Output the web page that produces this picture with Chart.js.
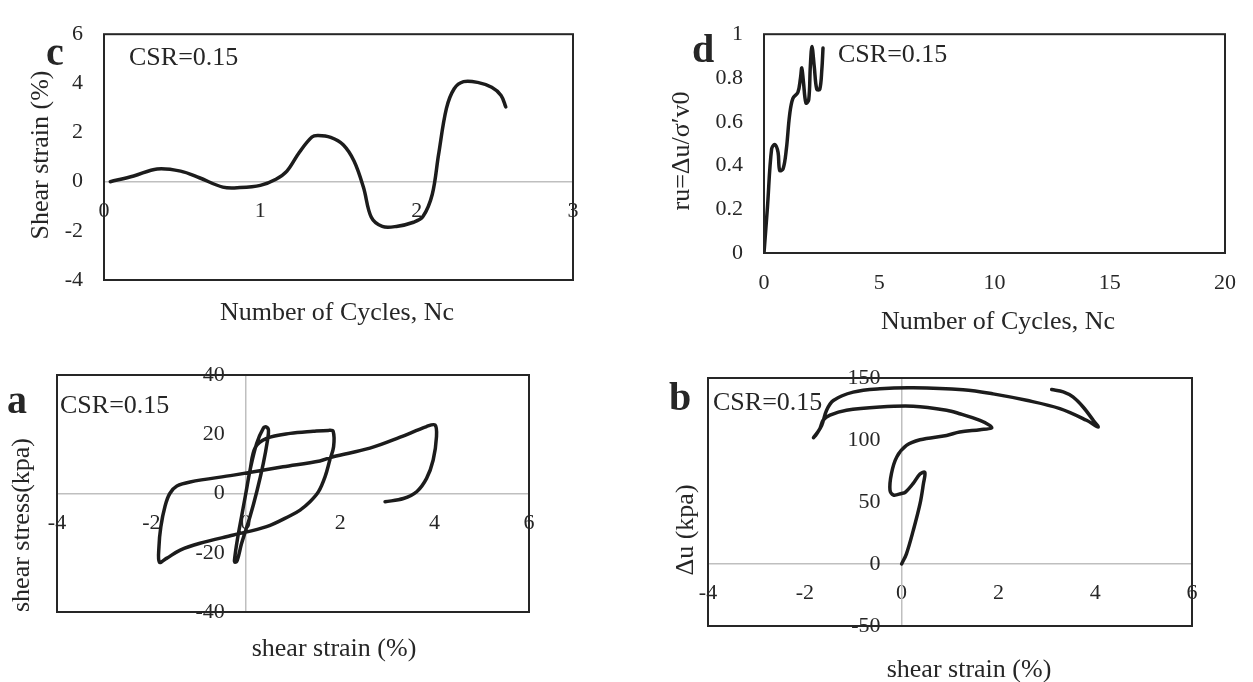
<!DOCTYPE html>
<html lang="en">
<head>
<meta charset="UTF-8">
<title>Cyclic test, CSR=0.15</title>
<script src="https://cdn.jsdelivr.net/npm/chart.js"></script>
<style>
  body { margin: 0; background: #fff; }
  #wrap { position: relative; width: 1253px; height: 682px; }
  canvas { position: absolute; left: 0; top: 0; }
</style>
</head>
<body>
<div id="wrap">
  <canvas id="chartC" width="1253" height="682"></canvas>
  <canvas id="chartD" width="1253" height="682"></canvas>
  <canvas id="chartA" width="1253" height="682"></canvas>
  <canvas id="chartB" width="1253" height="682"></canvas>
</div>
<script>
// c: shear strain vs number of cycles
const cyclesC = [0.04, 0.19, 0.34, 0.49, 0.61, 0.76, 0.87, 1.0, 1.1, 1.17, 1.25, 1.33, 1.37, 1.45, 1.53, 1.60, 1.66, 1.71, 1.78, 1.87, 1.98, 2.04, 2.10, 2.14, 2.19, 2.24, 2.30, 2.39, 2.48, 2.54, 2.57];
const strainC = [0.0, 0.23, 0.52, 0.43, 0.16, -0.22, -0.24, -0.15, 0.1, 0.43, 1.2, 1.82, 1.88, 1.8, 1.5, 0.83, -0.24, -1.45, -1.82, -1.82, -1.65, -1.42, -0.51, 1.1, 2.97, 3.78, 4.07, 4.04, 3.84, 3.51, 3.04];
const ticksC = { xMin: 0, xMax: 3, xStep: 1, yMin: -4, yMax: 6, yStep: 2 };

// d: pore pressure ratio vs number of cycles
const cyclesD = [0.0, 0.15, 0.33, 0.47, 0.61, 0.68, 0.83, 0.97, 1.11, 1.25, 1.47, 1.58, 1.64, 1.71, 1.82, 1.94, 2.01, 2.08, 2.18, 2.29, 2.42, 2.51, 2.56];
const ruD = [0.0, 0.21, 0.475, 0.496, 0.46, 0.377, 0.385, 0.475, 0.63, 0.706, 0.734, 0.797, 0.846, 0.783, 0.685, 0.70, 0.853, 0.944, 0.853, 0.748, 0.748, 0.839, 0.937];
const ticksD = { xMin: 0, xMax: 20, xStep: 5, yMin: 0, yMax: 1, yStep: 0.2 };

// a: shear stress vs shear strain
const strainA = [0, 0.09, 0.23, 0.37, 0.43, 0.48, 0.46, 0.37, 0.24, 0.09, -0.09, -0.18, -0.23, -0.24, -0.18, -0.09, 0.0, 0.09, 0.2, 0.44, 0.94, 1.43, 1.75, 1.85, 1.86, 1.78, 1.68, 1.54, 1.36, 1.15, 0.94, 0.44, -0.26, -0.97, -1.39, -1.68, -1.83, -1.84, -1.80, -1.71, -1.61, -1.46, -1.18, -0.26, 0.79, 1.57, 1.85, 2.63, 3.27, 3.83, 4.01, 4.04, 3.97, 3.83, 3.62, 3.34, 2.95];
const stressA = [0, 7.9, 16.9, 22, 22.5, 21.4, 18, 10.1, 1.1, -7.8, -16.9, -22.5, -23.2, -22.5, -15.7, -7.8, 0, 7.9, 15.5, 18.6, 20.3, 21.0, 21.3, 21, 15.8, 11.3, 5.7, 0.6, -2.8, -5.6, -7.5, -11.2, -14, -16.8, -19.1, -21.9, -23.2, -18, -11.2, -4.2, 0, 2.5, 3.9, 6.2, 9.0, 11.0, 12.4, 15.3, 19, 22.6, 23.1, 19.2, 11.3, 5.1, 0.6, -1.7, -2.8];
const ticksA = { xMin: -4, xMax: 6, xStep: 2, yMin: -40, yMax: 40, yStep: 20 };

// b: excess pore pressure vs shear strain
const strainB = [0, 0.10, 0.24, 0.38, 0.45, 0.48, 0.38, 0.24, 0.08, 0, -0.17, -0.24, -0.21, -0.10, 0.10, 0.38, 0.93, 1.20, 1.62, 1.86, 1.82, 1.62, 1.20, 0.93, 0.24, -0.45, -1.14, -1.48, -1.62, -1.69, -1.82, -1.76, -1.65, -1.55, -1.41, -1.0, -0.45, 0.24, 1.27, 1.89, 2.58, 3.27, 3.82, 4.06, 3.96, 3.75, 3.54, 3.34, 3.10];
const poreB = [0, 8.2, 26.9, 48.4, 64.6, 74, 72.6, 65, 58, 56.9, 55.6, 59.6, 72.9, 86.3, 95.6, 100.2, 103.7, 106.4, 108.3, 109.7, 111.8, 115.8, 121.2, 124, 127.2, 126.6, 124, 120, 116, 109, 101.9, 104.6, 111.8, 124, 131.9, 138.6, 141.3, 142.1, 140.5, 137.2, 132, 125.3, 115.9, 110.5, 115.9, 126.6, 134.7, 138.8, 140.7];
const ticksB = { xMin: -4, xMax: 6, xStep: 2, yMin: -50, yMax: 150, yStep: 50 };

const W = 1253, H = 682;
const SERIF = '"Liberation Serif", "Times New Roman", serif';
const INK = '#1c1c1c';
const TEXT = '#262626';
const ZERO_LINE = '#bfbfbf';

Chart.defaults.font.family = SERIF;
Chart.defaults.color = TEXT;

function pts(xs, ys) {
    return xs.map((x, i) => ({ x: x, y: ys[i] }));
}

const framePlugin = {
    id: 'frame',
    afterDatasetsDraw(chart) {
        const a = chart.chartArea;
        const ctx = chart.ctx;
        ctx.save();
        ctx.strokeStyle = '#262626';
        ctx.lineWidth = 2;
        ctx.strokeRect(a.left, a.top, a.right - a.left, a.bottom - a.top);
        ctx.restore();
    }
};

// y labels of an axis that crosses at x=0 get no padding from Chart.js, so push them left
function yLabelGap(gap) {
    return {
        id: 'yLabelGap',
        beforeDraw(chart) {
            const s = chart.scales.y;
            if (!gap || !s.getLabelItems) return;
            s._labelItems = null;
            s.getLabelItems(chart.chartArea).forEach(it => { it.options.translation[0] -= gap; });
        }
    };
}

// panel letter, CSR note and axis titles
function textPlugin(items) {
    return {
        id: 'texts',
        afterDraw(chart) {
            const ctx = chart.ctx;
            items.forEach(t => {
                ctx.save();
                ctx.font = t.font || ('26px ' + SERIF);
                ctx.fillStyle = TEXT;
                ctx.textAlign = t.align || 'center';
                ctx.textBaseline = t.base || 'middle';
                ctx.translate(t.x, t.y);
                if (t.rot) ctx.rotate(-Math.PI / 2);
                ctx.fillText(t.text, 0, 0);
                ctx.restore();
            });
        }
    };
}

function axis(min, max, step, pos, pad, extra) {
    return Object.assign({
        type: 'linear',
        position: pos,
        min: min,
        max: max,
        ticks: { stepSize: step, padding: pad, autoSkip: false, font: { size: 22 }, color: TEXT },
        grid: { display: false, drawTicks: false },
        border: { display: true, color: ZERO_LINE, width: 1.5 }
    }, extra || {});
}

function panel(id, data, xScale, yScale, padding, texts, gap) {
    new Chart(document.getElementById(id), {
        type: 'scatter',
        data: {
            datasets: [{
                data: data,
                showLine: true,
                borderColor: INK,
                borderWidth: 3.5,
                borderCapStyle: 'round',
                borderJoinStyle: 'round',
                pointRadius: 0,
                tension: 0.35,
                fill: false
            }]
        },
        options: {
            responsive: false,
            animation: false,
            layout: { padding: padding },
            plugins: { legend: { display: false }, tooltip: { enabled: false } },
            scales: { x: xScale, y: yScale }
        },
        plugins: [yLabelGap(gap), framePlugin, textPlugin(texts)]
    });
}

const bold = 'bold 40px ' + SERIF;

// c
panel('chartC', pts(cyclesC, strainC),
    axis(ticksC.xMin, ticksC.xMax, ticksC.xStep, { y: 0 }, 16),
    axis(ticksC.yMin, ticksC.yMax, ticksC.yStep, 'left', 21, {
        border: { display: false },
        afterFit: s => { s.width = 104; }
    }),
    { left: 0, top: 31, right: W - 573, bottom: H - 280 },
    [
        { text: 'c', x: 55, y: 65, font: bold, base: 'alphabetic' },
        { text: 'CSR=0.15', x: 129, y: 65, align: 'left', base: 'alphabetic' },
        { text: 'Shear strain (%)', x: 41, y: 155, rot: true },
        { text: 'Number of Cycles, Nc', x: 337, y: 313 }
    ], 0);

// d
const yAxisD = axis(ticksD.yMin, ticksD.yMax, ticksD.yStep, 'left', 21, {
    border: { display: false },
    afterFit: s => { s.width = 124; }
});
yAxisD.ticks.callback = v => String(Number(v.toFixed(1)));
panel('chartD', pts(cyclesD, ruD),
    axis(ticksD.xMin, ticksD.xMax, ticksD.xStep, 'bottom', 17, {
        border: { display: false },
        afterFit: s => { s.height = 40; }
    }),
    yAxisD,
    { left: 640, top: 15, right: W - 1232, bottom: H - 253 - 40 },
    [
        { text: 'd', x: 703, y: 62, font: bold, base: 'alphabetic' },
        { text: 'CSR=0.15', x: 838, y: 62, align: 'left', base: 'alphabetic' },
        { text: 'ru=\u0394u/\u03c3\u2032v0', x: 682, y: 151, rot: true },
        { text: 'Number of Cycles, Nc', x: 998, y: 322 }
    ], 0);

// a
panel('chartA', pts(strainA, stressA),
    axis(ticksA.xMin, ticksA.xMax, ticksA.xStep, { y: 0 }, 17),
    axis(ticksA.yMin, ticksA.yMax, ticksA.yStep, { x: 0 }, 0),
    { left: 57, top: 375, right: W - 529, bottom: H - 612 },
    [
        { text: 'a', x: 17, y: 413, font: bold, base: 'alphabetic' },
        { text: 'CSR=0.15', x: 60, y: 413, align: 'left', base: 'alphabetic' },
        { text: 'shear stress(kpa)', x: 22, y: 525, rot: true },
        { text: 'shear strain (%)', x: 334, y: 649 }
    ], 21);

// b
panel('chartB', pts(strainB, poreB),
    axis(ticksB.xMin, ticksB.xMax, ticksB.xStep, { y: 0 }, 16),
    axis(ticksB.yMin, ticksB.yMax, ticksB.yStep, { x: 0 }, 0),
    { left: 708, top: 378, right: W - 1192, bottom: H - 626 },
    [
        { text: 'b', x: 680, y: 410, font: bold, base: 'alphabetic' },
        { text: 'CSR=0.15', x: 713, y: 410, align: 'left', base: 'alphabetic' },
        { text: '\u0394u (kpa)', x: 686, y: 530, rot: true },
        { text: 'shear strain (%)', x: 969, y: 670 }
    ], 21);
</script>
</body>
</html>
